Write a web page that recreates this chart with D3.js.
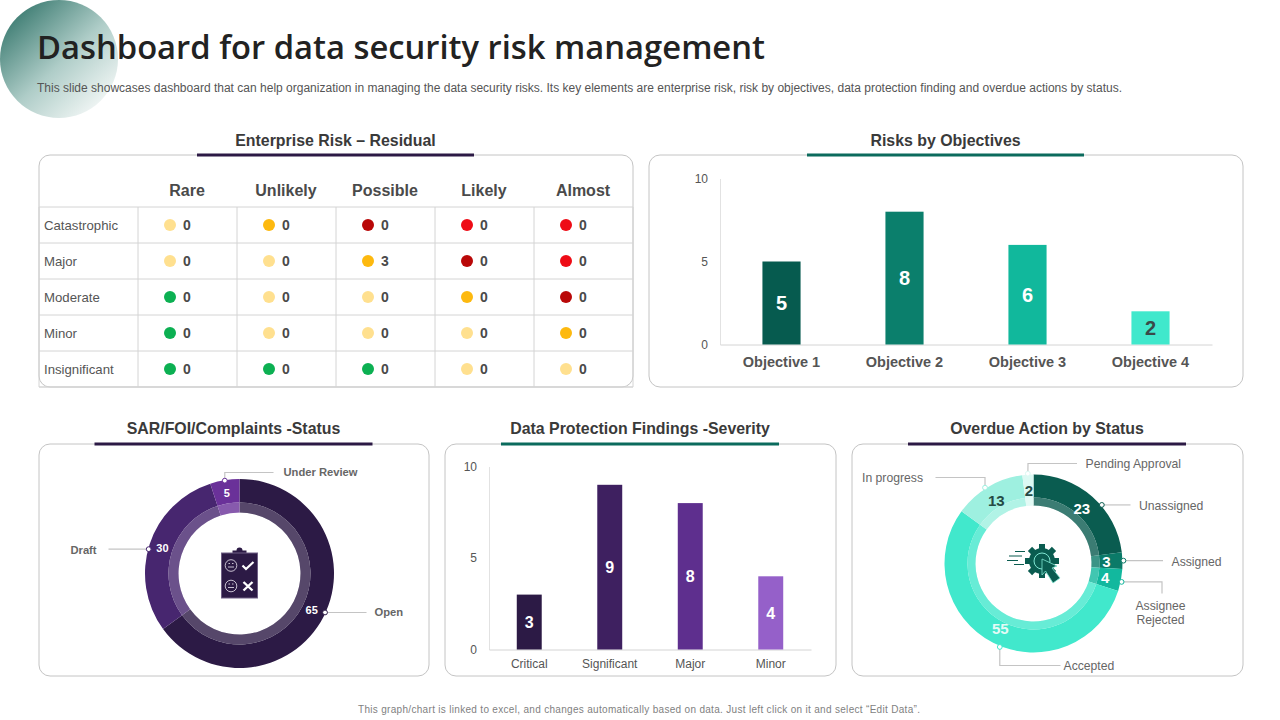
<!DOCTYPE html>
<html>
<head>
<meta charset="utf-8">
<script src="https://cdn.jsdelivr.net/npm/d3@7"></script>
<style>
  html, body { margin: 0; padding: 0; background: #fff; }
  svg { display: block; }
  text { font-family: "Liberation Sans", Arial, sans-serif; }
</style>
</head>
<body>
<svg id="chart" width="1280" height="720"></svg>
<script>
// risk matrix
var likelihoods = ['Rare', 'Unlikely', 'Possible', 'Likely', 'Almost'];
var impacts = ['Catastrophic', 'Major', 'Moderate', 'Minor', 'Insignificant'];
var riskLevels = [
  ['low', 'medium', 'severe', 'high', 'high'],
  ['low', 'low', 'medium', 'severe', 'high'],
  ['safe', 'low', 'low', 'medium', 'severe'],
  ['safe', 'low', 'low', 'low', 'medium'],
  ['safe', 'safe', 'safe', 'low', 'low']
];
var riskCounts = [
  [0, 0, 0, 0, 0],
  [0, 0, 3, 0, 0],
  [0, 0, 0, 0, 0],
  [0, 0, 0, 0, 0],
  [0, 0, 0, 0, 0]
];

// bars
var objectives = ['Objective 1', 'Objective 2', 'Objective 3', 'Objective 4'];
var objectiveValues = [5, 8, 6, 2];
var severities = ['Critical', 'Significant', 'Major', 'Minor'];
var severityValues = [3, 9, 8, 4];

// donuts
var sarLabels = ['Open', 'Draft', 'Under Review'];
var sarValues = [65, 30, 5];
var overdueLabels = ['Unassigned', 'Assigned', 'Assignee Rejected', 'Accepted', 'In progress', 'Pending Approval'];
var overdueValues = [23, 3, 4, 55, 13, 2];

var levelColors = { low: '#ffe08f', medium: '#fdb90f', severe: '#b90808', high: '#ee0c16', safe: '#0cb052' };
var objectiveColors = ['#065b4f', '#0b7f6c', '#11b89c', '#40e8cc'];
var severityColors = ['#2c1a45', '#3e2060', '#5e2f8e', '#9560c9'];
var sarColors = ['#2c1a45', '#47266f', '#6a3199'];
var overdueColors = ['#0a5c50', '#0b7a68', '#12b89e', '#41e8cc', '#9ef0e0', '#dcf9f3'];

var svg = d3.select('#chart');
var defs = svg.append('defs');

var grad = defs.append('linearGradient').attr('id', 'cornerGrad')
  .attr('x1', '0.1').attr('y1', '0.1').attr('x2', '0.85').attr('y2', '0.9');
grad.append('stop').attr('offset', '0').attr('stop-color', '#3a7a70');
grad.append('stop').attr('offset', '0.55').attr('stop-color', '#afcdc8');
grad.append('stop').attr('offset', '1').attr('stop-color', '#f1f6f5');

svg.append('circle').attr('cx', 59).attr('cy', 59).attr('r', 59).attr('fill', 'url(#cornerGrad)');

svg.append('text').attr('x', 37).attr('y', 59)
  .style('font-family', '"Open Sans", sans-serif').style('font-weight', 600)
  .style('font-size', '33px').attr('fill', '#222')
  .attr('textLength', 728).attr('lengthAdjust', 'spacingAndGlyphs')
  .text('Dashboard for data security risk management');

svg.append('text').attr('x', 37).attr('y', 92)
  .style('font-size', '12px').attr('fill', '#555')
  .attr('textLength', 1085)
  .text('This slide showcases dashboard that can help organization in managing the data security risks. Its key elements are enterprise risk, risk by objectives, data protection finding and overdue actions by status.');

svg.append('text').attr('x', 358).attr('y', 713)
  .style('font-size', '10px').attr('fill', '#7f7f7f')
  .attr('textLength', 562)
  .text('This graph/chart is linked to excel, and changes automatically based on data. Just left click on it and select \u201cEdit Data\u201d.');

function panel(x, y, w, h, title, accent, ruleWidth, titleDy) {
  svg.append('rect').attr('x', x).attr('y', y).attr('width', w).attr('height', h)
    .attr('rx', 11).attr('fill', '#fff').attr('stroke', '#c4c4c4').attr('stroke-width', 1);
  var cx = x + w / 2 - 0.5;
  svg.append('line').attr('x1', cx - ruleWidth / 2).attr('x2', cx + ruleWidth / 2)
    .attr('y1', y).attr('y2', y).attr('stroke', accent).attr('stroke-width', 3);
  svg.append('text').attr('x', cx).attr('y', y + titleDy).attr('text-anchor', 'middle')
    .style('font-size', '15.9px').style('font-weight', 700).attr('fill', '#3a3a3a').text(title);
}

panel(39, 155, 594, 232, 'Enterprise Risk \u2013 Residual', '#2c1a45', 277, -9);
panel(649, 155, 594, 232, 'Risks by Objectives', '#0b6b5d', 277, -9);
panel(39, 444, 390, 232, 'SAR/FOI/Complaints -Status', '#2c1a45', 278, -10);
panel(445, 444, 391, 232, 'Data Protection Findings -Severity', '#0b6b5d', 278, -10);
panel(852, 444, 391, 232, 'Overdue Action by Status', '#2c1a45', 278, -10);

// table
function drawTable() {
  var g = svg.append('g');
  var colX = d3.scaleBand().domain(likelihoods).range([138, 633]);
  var rowY = d3.scaleBand().domain(impacts).range([207, 387]);
  var gridColor = '#d4d4d4';

  rowY.domain().forEach(function (d) {
    g.append('line').attr('x1', 39).attr('x2', 633).attr('y1', rowY(d)).attr('y2', rowY(d))
      .attr('stroke', gridColor);
  });
  g.append('line').attr('x1', 39).attr('x2', 633).attr('y1', 387).attr('y2', 387).attr('stroke', gridColor).attr('stroke-width', 1.5);
  g.append('line').attr('x1', 39).attr('x2', 39).attr('y1', 207).attr('y2', 387).attr('stroke', gridColor);
  g.append('line').attr('x1', 138).attr('x2', 138).attr('y1', 207).attr('y2', 387).attr('stroke', gridColor);
  colX.domain().forEach(function (d) {
    g.append('line').attr('x1', colX(d) + colX.bandwidth()).attr('x2', colX(d) + colX.bandwidth())
      .attr('y1', 207).attr('y2', 387).attr('stroke', gridColor);
  });

  g.selectAll('.head').data(likelihoods).enter().append('text')
    .attr('x', function (d) { return colX(d) + colX.bandwidth() / 2 - 0.5; })
    .attr('y', 196).attr('text-anchor', 'middle')
    .style('font-size', '16px').style('font-weight', 700).attr('fill', '#4a4a4a')
    .text(function (d) { return d; });

  impacts.forEach(function (impact, i) {
    var cy = rowY(impact) + rowY.bandwidth() / 2;
    g.append('text').attr('x', 44).attr('y', cy + 5)
      .style('font-size', '13.2px').attr('fill', '#555').text(impact);
    likelihoods.forEach(function (l, j) {
      g.append('circle').attr('cx', colX(l) + 32).attr('cy', cy).attr('r', 6)
        .attr('fill', levelColors[riskLevels[i][j]]);
      g.append('text').attr('x', colX(l) + 49).attr('y', cy + 5).attr('text-anchor', 'middle')
        .style('font-size', '14px').style('font-weight', 700).attr('fill', '#4a4a4a')
        .text(riskCounts[i][j]);
    });
  });
}
drawTable();

function barChart(opts) {
  var g = svg.append('g');
  var x = d3.scaleBand().domain(opts.labels).range(opts.xRange).paddingInner(opts.padding).paddingOuter(opts.padding / 2);
  var y = d3.scaleLinear().domain([0, 10]).range(opts.yRange);

  var yAxis = g.append('g').attr('transform', 'translate(' + opts.xRange[0] + ',0)')
    .call(d3.axisLeft(y).tickValues([0, 5, 10]).tickSize(0).tickPadding(12));
  yAxis.select('.domain').attr('stroke', '#e2e2e2');
  yAxis.selectAll('text').style('font-size', '12px').style('font-family', '"Liberation Sans", Arial, sans-serif').attr('fill', '#555');

  var xAxis = g.append('g').attr('transform', 'translate(0,' + opts.yRange[0] + ')')
    .call(d3.axisBottom(x).tickSize(0).tickPadding(opts.labelPad));
  xAxis.select('.domain').attr('stroke', '#d4d4d4');
  xAxis.selectAll('text').style('font-size', opts.labelSize).style('font-weight', opts.labelWeight)
    .style('font-family', '"Liberation Sans", Arial, sans-serif').attr('fill', '#555');

  g.selectAll('.bar').data(opts.values).enter().append('rect')
    .attr('x', function (d, i) { return x(opts.labels[i]); })
    .attr('y', function (d) { return y(d); })
    .attr('width', x.bandwidth())
    .attr('height', function (d) { return y(0) - y(d); })
    .attr('fill', function (d, i) { return opts.colors[i]; });

  g.selectAll('.val').data(opts.values).enter().append('text')
    .attr('x', function (d, i) { return x(opts.labels[i]) + x.bandwidth() / 2; })
    .attr('y', function (d) { return (y(d) + y(0)) / 2 + opts.valueDy; })
    .attr('text-anchor', 'middle')
    .style('font-size', opts.valueSize).style('font-weight', 700)
    .attr('fill', function (d, i) { return opts.valueColors[i]; })
    .text(function (d) { return d; });
}

barChart({
  labels: objectives, values: objectiveValues, colors: objectiveColors,
  valueColors: ['#fff', '#fff', '#fff', '#3a4a48'],
  xRange: [720, 1212], yRange: [344.5, 178.5], padding: 0.69,
  labelSize: '14.5px', labelWeight: 700, labelPad: 12.5, valueSize: '20px', valueDy: 7
});

barChart({
  labels: severities, values: severityValues, colors: severityColors,
  valueColors: ['#fff', '#fff', '#fff', '#fff'],
  xRange: [489, 811], yRange: [649.5, 466.5], padding: 0.69,
  labelSize: '12px', labelWeight: 400, labelPad: 9.5, valueSize: '16px', valueDy: 6
});

function donut(opts) {
  var g = svg.append('g').attr('transform', 'translate(' + opts.cx + ',' + opts.cy + ')');
  var arcs = d3.pie().sort(null)(opts.values);
  var outer = d3.arc().innerRadius(opts.rMid).outerRadius(opts.rOuter);
  var inner = d3.arc().innerRadius(opts.rInner).outerRadius(opts.rMid);

  g.selectAll('.outer').data(arcs).enter().append('path')
    .attr('d', outer).attr('fill', function (d, i) { return opts.colors[i]; });
  g.selectAll('.inner').data(arcs).enter().append('path')
    .attr('d', inner).attr('fill', function (d, i) { return opts.colors[i]; });
  // lighter inner band
  g.selectAll('.veil').data(arcs).enter().append('path')
    .attr('d', inner).attr('fill', '#fff').attr('fill-opacity', 0.2);

  var labelArc = d3.arc().innerRadius(opts.labelR).outerRadius(opts.labelR);
  g.selectAll('.val').data(arcs).enter().append('text')
    .attr('transform', function (d) { return 'translate(' + labelArc.centroid(d) + ')'; })
    .attr('dy', '0.36em').attr('text-anchor', 'middle')
    .style('font-size', opts.valueSize).style('font-weight', 700)
    .attr('fill', function (d, i) { return opts.valueColors[i]; })
    .text(function (d) { return d.data; });

  // leaders start on the ring and run out to the label
  opts.leaders.forEach(function (l, i) {
    var a = (arcs[i].startAngle + arcs[i].endAngle) / 2 + (l.shift || 0) * Math.PI / 180;
    var px = Math.sin(a) * opts.dotR, py = -Math.cos(a) * opts.dotR;
    var pts = [[px, py]].concat(l.path.map(function (p) {
      return [p[0] === null ? px : p[0], p[1] === null ? py : p[1]];
    }));
    g.append('path').attr('d', d3.line()(pts))
      .attr('fill', 'none').attr('stroke', '#c4c4c4').attr('stroke-width', 1.2);
    g.append('circle').attr('cx', px).attr('cy', py).attr('r', 2.4)
      .attr('fill', '#fff').attr('stroke', opts.colors[i]).attr('stroke-width', 1);
    l.text.forEach(function (t, k) {
      g.append('text').attr('x', l.tx).attr('y', l.ty + k * 14).attr('text-anchor', l.anchor)
        .style('font-size', opts.nameSize).style('font-weight', opts.nameWeight).attr('fill', '#666')
        .text(t);
    });
  });
  return g;
}

var sarGroup = donut({
  cx: 239.5, cy: 573.5, rOuter: 94.5, rMid: 71, rInner: 61, labelR: 81,
  dotR: 94, values: sarValues, colors: sarColors,
  valueColors: ['#fff', '#fff', '#fff'], valueSize: '11px',
  nameSize: '11.2px', nameWeight: 700,
  leaders: [
    { text: [sarLabels[0]], path: [[null, 39], [127, 39]], tx: 135, ty: 42, anchor: 'start', shift: -2.5 },
    { text: [sarLabels[1]], path: [[-131, null]], tx: -156, ty: -19.5, anchor: 'middle', shift: -3 },
    { text: [sarLabels[2]], path: [[null, -101], [34, -101]], tx: 44, ty: -97.5, anchor: 'start', shift: 0 }
  ]
});

var overdueGroup = donut({
  cx: 1033.5, cy: 563.5, rOuter: 89, rMid: 66, rInner: 58, labelR: 73,
  dotR: 90, values: overdueValues, colors: overdueColors,
  valueColors: ['#fff', '#fff', '#fff', '#e4fbf6', '#254a44', '#254a44'], valueSize: '15px',
  nameSize: '12.2px', nameWeight: 400,
  leaders: [
    { text: [overdueLabels[0]], path: [[97, null]], tx: 105.5, ty: -54, anchor: 'start', shift: 8 },
    { text: [overdueLabels[1]], path: [[129.5, null]], tx: 138, ty: 2, anchor: 'start', shift: 0 },
    { text: [overdueLabels[2].split(' ')[0], overdueLabels[2].split(' ')[1]], path: [[128.5, null], [128.5, 30]], tx: 127, ty: 46, anchor: 'middle', shift: 1 },
    { text: [overdueLabels[3]], path: [[null, 102], [27, 102]], tx: 30, ty: 106, anchor: 'start', shift: -5 },
    { text: [overdueLabels[4]], path: [[null, -86], [-98, -86]], tx: -110.5, ty: -81.5, anchor: 'end', shift: -2 },
    { text: [overdueLabels[5]], path: [[-5.5, -100], [43.5, -100]], tx: 52, ty: -96, anchor: 'start', shift: 0 }
  ]
});

// clipboard icon in the first donut
(function () {
  var g = sarGroup.append('g').attr('fill', 'none');
  g.append('path').attr('d', 'M-7,-20.5 V-23 H-3 A3,3 0 0 1 3,-23 H7 V-20.5 Z').attr('fill', '#2c1a45');
  g.append('rect').attr('x', -18).attr('y', -20.5).attr('width', 36).attr('height', 45)
    .attr('fill', '#2c1a45').attr('stroke', '#6f5f85').attr('stroke-width', 1);
  [-8, 12.5].forEach(function (cy) {
    g.append('circle').attr('cx', -8.5).attr('cy', cy).attr('r', 5.8).attr('stroke', '#d9d3e0').attr('stroke-width', 0.9);
    g.append('path').attr('d', 'M-11.5,' + (cy + 1.5) + 'H-5.5M-11,' + (cy - 2) + 'h1.5M-7.5,' + (cy - 2) + 'h1.5')
      .attr('stroke', '#d9d3e0').attr('stroke-width', 0.9);
  });
  g.append('path').attr('d', 'M3,-8 L6.5,-4.5 L14,-11.5').attr('stroke', '#fff').attr('stroke-width', 2.2);
  g.append('path').attr('d', 'M4,8.5 L13,17 M13,8.5 L4,17').attr('stroke', '#fff').attr('stroke-width', 2.4);
})();

// gear and cursor icon in the second donut
(function () {
  var g = overdueGroup.append('g').attr('transform', 'translate(8.5,-2.5)');
  var teal = '#0a5c50';
  d3.range(8).forEach(function (i) {
    g.append('rect').attr('x', -3).attr('y', -17).attr('width', 6).attr('height', 8).attr('fill', teal)
      .attr('transform', 'rotate(' + i * 45 + ')');
  });
  g.append('circle').attr('r', 13).attr('fill', teal);
  g.append('circle').attr('r', 8).attr('fill', 'none').attr('stroke', '#7fe6d2').attr('stroke-width', 1);
  g.append('path').attr('d', 'M0,-2 L0,14 L3.5,10 L11,22 L18,17 L10,7 L15,5 Z')
    .attr('fill', teal).attr('stroke', '#7fe6d2').attr('stroke-width', 0.8);
  g.append('path').attr('d', 'M-17,-9.5H-27M-20,-5H-33M-24,-0.5H-35M-18,3.5H-28')
    .attr('stroke', teal).attr('stroke-width', 1.2);
})();
</script>
</body>
</html>
